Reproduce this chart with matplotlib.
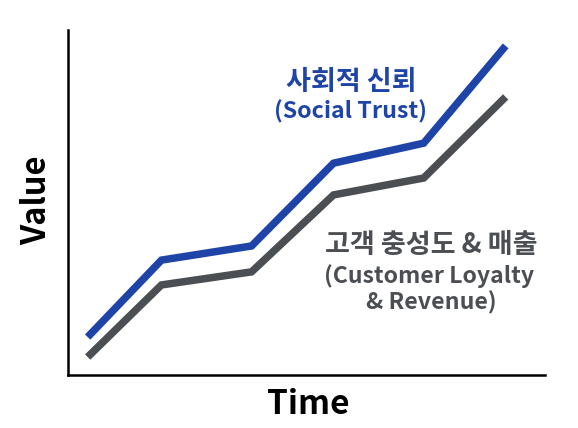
import matplotlib
matplotlib.use("Agg")
import matplotlib.pyplot as plt

plt.rcParams['font.family'] = ['Noto Sans CJK KR', 'DejaVu Sans']

time = [0, 0.9, 2.0, 3.0, 4.1, 5.1]
social_trust = [1.10, 3.33, 3.74, 6.14, 6.72, 9.54]
loyalty_revenue = [0.52, 2.61, 2.99, 5.22, 5.71, 8.06]

blue = '#1f44a8'
gray = '#4b4e52'

W, H = 578, 428
fig = plt.figure(figsize=(W / 100, H / 100), dpi=100)
ax = fig.add_axes([68 / W, 1 - 375 / H, (545 - 68) / W, (375 - 30) / H])

ax.plot(time, social_trust, color=blue, lw=5.4, solid_capstyle='butt', solid_joinstyle='miter')
ax.plot(time, loyalty_revenue, color=gray, lw=5.4, solid_capstyle='butt', solid_joinstyle='miter')

ax.set_xlim(-0.24, 5.58)
ax.set_ylim(0, 10)
ax.set_xticks([])
ax.set_yticks([])
for s in ['top', 'right']:
    ax.spines[s].set_visible(False)
for s in ['left', 'bottom']:
    ax.spines[s].set_linewidth(1.8)
    ax.spines[s].set_color('black')


def ftext(x, y, s, **kw):
    fig.text(x / W, 1 - y / H, s, ha='center', va='center', **kw)


ftext(351, 82, '사회적 신뢰', color=blue, fontsize=19.5, fontweight='bold')
ftext(351, 112, '(Social Trust)', color=blue, fontsize=16.7, fontweight='bold')
ftext(431, 245, '고객 충성도 & 매출', color=gray, fontsize=19.5, fontweight='bold')
ftext(429, 276, '(Customer Loyalty', color=gray, fontsize=16.6, fontweight='bold')
ftext(431, 303, '& Revenue)', color=gray, fontsize=16.7, fontweight='bold')

ftext(308, 405, 'Time', color='black', fontsize=24, fontweight='bold')
ftext(37, 200, 'Value', color='black', fontsize=23.5, fontweight='bold', rotation=90)

fig.savefig('out.png', dpi=100)
